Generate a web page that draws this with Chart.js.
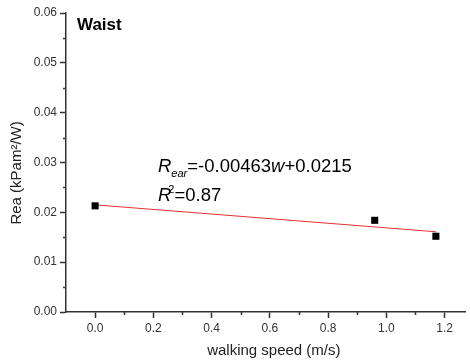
<!DOCTYPE html>
<html>
<head>
<meta charset="utf-8">
<script src="https://cdn.jsdelivr.net/npm/chart.js@4.4.0/dist/chart.umd.min.js"></script>
<style>
  html, body { margin: 0; padding: 0; background: #fff; }
  #wrap { width: 470px; height: 364px; }
</style>
</head>
<body>
<div id="wrap"><canvas id="waistChart" width="470" height="364"></canvas></div>
<script>
// measured points (walking speed vs Rea)
const speeds = [0, 0.96, 1.17];
const rea = [0.0213, 0.0184, 0.0152];

// fitted line end points
const fitSpeeds = [0, 1.17];
const fitRea = [0.0215, 0.0161];

// axis ticks
const xTicks = [0, 0.2, 0.4, 0.6, 0.8, 1.0, 1.2];
const xMinor = [0.1, 0.3, 0.5, 0.7, 0.9, 1.1];
const yTicks = [0, 0.01, 0.02, 0.03, 0.04, 0.05, 0.06];
const yMinor = [0.005, 0.015, 0.025, 0.035, 0.045, 0.055];

const FONT = "'Liberation Sans', Arial, sans-serif";
const AXIS = '#333333';

const toPoints = (xs, ys) => xs.map((x, i) => ({ x: x, y: ys[i] }));

// short minor ticks + the annotation text
const extras = {
    id: 'extras',
    afterDraw(chart) {
        const ctx = chart.ctx;
        const xs = chart.scales.x;
        const ys = chart.scales.y;
        ctx.save();
        ctx.strokeStyle = AXIS;
        ctx.lineWidth = 1.5;
        ctx.beginPath();
        yMinor.forEach(v => {
            const py = Math.round(ys.getPixelForValue(v)) + 0.5;
            ctx.moveTo(ys.right - 3, py);
            ctx.lineTo(ys.right, py);
        });
        xMinor.forEach(v => {
            const px = Math.round(xs.getPixelForValue(v)) + 0.5;
            ctx.moveTo(px, xs.top);
            ctx.lineTo(px, xs.top + 3);
        });
        ctx.stroke();

        ctx.fillStyle = '#000';
        ctx.textBaseline = 'alphabetic';
        ctx.textAlign = 'left';

        // panel label
        ctx.font = 'bold 17px ' + FONT;
        ctx.fillText('Waist', 77, 30);

        // regression equation
        let x = 158;
        let y = 172;
        const part = (txt, font, dy) => {
            ctx.font = font;
            ctx.fillText(txt, x, y + (dy || 0));
            x += ctx.measureText(txt).width;
        };
        part('R', 'italic 18.5px ' + FONT);
        part('ear', 'italic 11px ' + FONT, 5);
        part('=-0.00463', '18.5px ' + FONT);
        part('w', 'italic 18.5px ' + FONT);
        part('+0.0215', '18.5px ' + FONT);

        x = 158;
        y = 201;
        part('R', 'italic 18.5px ' + FONT);
        x -= 3;
        part('2', '11px ' + FONT, -8);
        part('=0.87', '18.5px ' + FONT);
        ctx.restore();
    }
};

new Chart('waistChart', {
    type: 'scatter',
    data: {
        datasets: [{
            label: 'fit',
            type: 'line',
            data: toPoints(fitSpeeds, fitRea),
            borderColor: '#e8302f',
            borderWidth: 1,
            pointRadius: 0,
            fill: false,
            order: 2
        }, {
            label: 'Waist',
            data: toPoints(speeds, rea),
            pointStyle: 'rect',
            pointRadius: 5,
            backgroundColor: '#000',
            borderColor: '#000',
            borderWidth: 0,
            order: 1
        }]
    },
    options: {
        responsive: false,
        animation: false,
        layout: { padding: { top: 13, right: 3, bottom: 0, left: 0 } },
        plugins: {
            legend: { display: false },
            tooltip: { enabled: false }
        },
        scales: {
            x: {
                type: 'linear',
                min: -0.1,
                max: 1.27,
                afterBuildTicks: axis => { axis.ticks = xTicks.map(v => ({ value: v })); },
                afterFit: axis => { axis.height = 52; },
                border: { color: AXIS, width: 1.5 },
                grid: { drawOnChartArea: false, tickLength: 6, tickColor: AXIS, tickWidth: 1.5 },
                ticks: {
                    color: '#333',
                    padding: 3,
                    font: { family: FONT, size: 12 },
                    callback: v => v.toFixed(1)
                },
                title: {
                    display: true,
                    text: '    walking speed (m/s)',
                    color: '#222',
                    font: { family: FONT, size: 15 },
                    padding: { top: 0, bottom: 4 }
                }
            },
            y: {
                min: 0,
                max: 0.06,
                afterBuildTicks: axis => { axis.ticks = yTicks.map(v => ({ value: v })); },
                afterFit: axis => { axis.width = 66; },
                border: { color: AXIS, width: 1.5 },
                grid: { drawOnChartArea: false, tickLength: 6, tickColor: AXIS, tickWidth: 1.5 },
                ticks: {
                    color: '#333',
                    padding: 3,
                    font: { family: FONT, size: 12 },
                    callback: v => v.toFixed(2)
                },
                title: {
                    display: true,
                    text: 'Rea (kPam\u00b2/W)     ',
                    color: '#222',
                    font: { family: FONT, size: 15 },
                    padding: { top: 8, bottom: 0 }
                }
            }
        }
    },
    plugins: [extras]
});
</script>
</body>
</html>
